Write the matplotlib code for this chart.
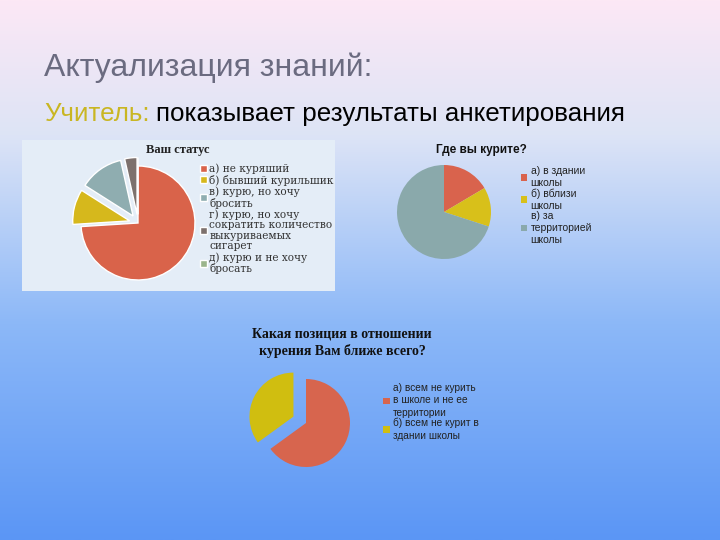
import numpy as np
import matplotlib
matplotlib.use('Agg')
import matplotlib.pyplot as plt
from matplotlib.colors import LinearSegmentedColormap
from matplotlib.patches import Rectangle

# chart 1: "Ваш статус"
status_labels = ['а) не куряший', 'б) бывший курильшик', 'в) курю, но хочу\nбросить',
                 'г) курю, но хочу\nсократить количество\nвыкуриваемых\nсигарет',
                 'д) курю и не хочу\nбросать']
status_values = [74, 10, 12.5, 3.5, 0]
status_colors = ['#d9634a', '#d6b81c', '#8fadb0', '#7d716d', '#9bb58c']

# chart 2: "Где вы курите?"
where_labels = ['а) в здании\nшколы', 'б) вблизи\nшколы', 'в) за\nтерриторией\nшколы']
where_values = [16.5, 13.5, 70]
where_colors = ['#d9634d', '#d8c01a', '#8aa9ab']

# chart 3: "Какая позиция ..."
pos_labels = ['а) всем не курить\nв школе и не ее\nтерритории', 'б) всем не курит в\nздании школы']
pos_values = [65, 35]
pos_colors = ['#d7654e', '#d0be10']

W, H = 720, 540
fig = plt.figure(figsize=(7.2, 5.4), dpi=100)

# slide background gradient
bg = fig.add_axes([0, 0, 1, 1])
cmap = LinearSegmentedColormap.from_list('bg', [(0, '#fce8f5'), (0.25, '#dde4f6'),
                                                (0.6, '#8cb8f8'), (1, '#5b96f5')])
bg.imshow(np.linspace(0, 1, 256).reshape(-1, 1), aspect='auto', cmap=cmap,
          extent=[0, W, H, 0])
bg.set_xlim(0, W)
bg.set_ylim(H, 0)
bg.axis('off')


def px(x, y):
    return x / W, 1 - y / H


def pie_axes(cx, cy, r, pad=1.5):
    s = r * pad
    ax = fig.add_axes([(cx - s) / W, 1 - (cy + s) / H, 2 * s / W, 2 * s / H])
    return ax


def fix_limits(ax, pad=1.5):
    # pie() rescales the axes, so set the limits afterwards
    ax.set_xlim(-pad, pad)
    ax.set_ylim(-pad, pad)
    ax.set_aspect('equal')
    ax.axis('off')


# heading
fig.text(*px(44, 68), 'Актуализация знаний:', fontsize=23, color='#6b6b80',
         family='Liberation Sans', va='center')
t = fig.text(*px(44, 114), 'Учитель:', fontsize=18.7, color='#c9b622',
             family='Liberation Sans', va='center')
fig.canvas.draw()
bb = t.get_window_extent()
fig.text((bb.x1 + 6) / W, 1 - 114 / H, 'показывает результаты анкетирования',
         fontsize=18.7, color='black', family='Liberation Sans', va='center')

# chart 1 panel
bg.add_patch(Rectangle((22, 140), 313, 151, facecolor='#e4edf7', edgecolor='none'))
fig.text(*px(178, 150), 'Ваш статус', fontsize=9, fontweight='bold',
         family='Liberation Serif', ha='center', va='center', color='#222222')
ax1 = pie_axes(138, 223, 57)
w1, _ = ax1.pie(status_values, colors=status_colors, startangle=90, counterclock=False,
                explode=[0, 0.15, 0.15, 0.15, 0.15],
                wedgeprops=dict(edgecolor='white', linewidth=1))
fix_limits(ax1)
leg1 = fig.legend(w1, status_labels, loc='upper left', bbox_to_anchor=px(195, 158),
                  frameon=False, handlelength=0.65, handleheight=0.65,
                  handletextpad=0.2, labelspacing=0.08, borderpad=0,
                  prop={'family': 'DejaVu Serif', 'size': 7.6})
for tx in leg1.get_texts():
    tx.set_color('#333333')
    tx.set_linespacing(1.05)

# chart 2
fig.text(*px(481, 150), 'Где вы курите?', fontsize=8.5, fontweight='bold',
         family='Liberation Sans', ha='center', va='center', color='#111111')
ax2 = pie_axes(444, 212, 47)
w2, _ = ax2.pie(where_values, colors=where_colors, startangle=90, counterclock=False)
fix_limits(ax2)
leg2 = fig.legend(w2, where_labels, loc='upper left', bbox_to_anchor=px(516, 161),
                  frameon=False, handlelength=0.6, handleheight=0.6,
                  handletextpad=0.3, labelspacing=0.0, borderpad=0,
                  prop={'family': 'Liberation Sans', 'size': 7.5})
for tx in leg2.get_texts():
    tx.set_color('#222222')
    tx.set_linespacing(1.25)

# chart 3
fig.text(*px(342, 343), 'Какая позиция в отношении\nкурения Вам ближе всего?', fontsize=10,
         fontweight='bold', family='Liberation Serif', ha='center', va='center',
         color='#111111', linespacing=1.3)
ax3 = pie_axes(306, 423, 44)
w3, _ = ax3.pie(pos_values, colors=pos_colors, startangle=90, counterclock=False,
                explode=[0, 0.32])
fix_limits(ax3)
leg3 = fig.legend(w3, pos_labels, loc='upper left', bbox_to_anchor=px(378, 378),
                  frameon=False, handlelength=0.65, handleheight=0.65,
                  handletextpad=0.3, labelspacing=0.0, borderpad=0,
                  prop={'family': 'Liberation Sans', 'size': 7.3})
for tx in leg3.get_texts():
    tx.set_color('#222222')
    tx.set_linespacing(1.3)

fig.savefig('out.png', dpi=100)
